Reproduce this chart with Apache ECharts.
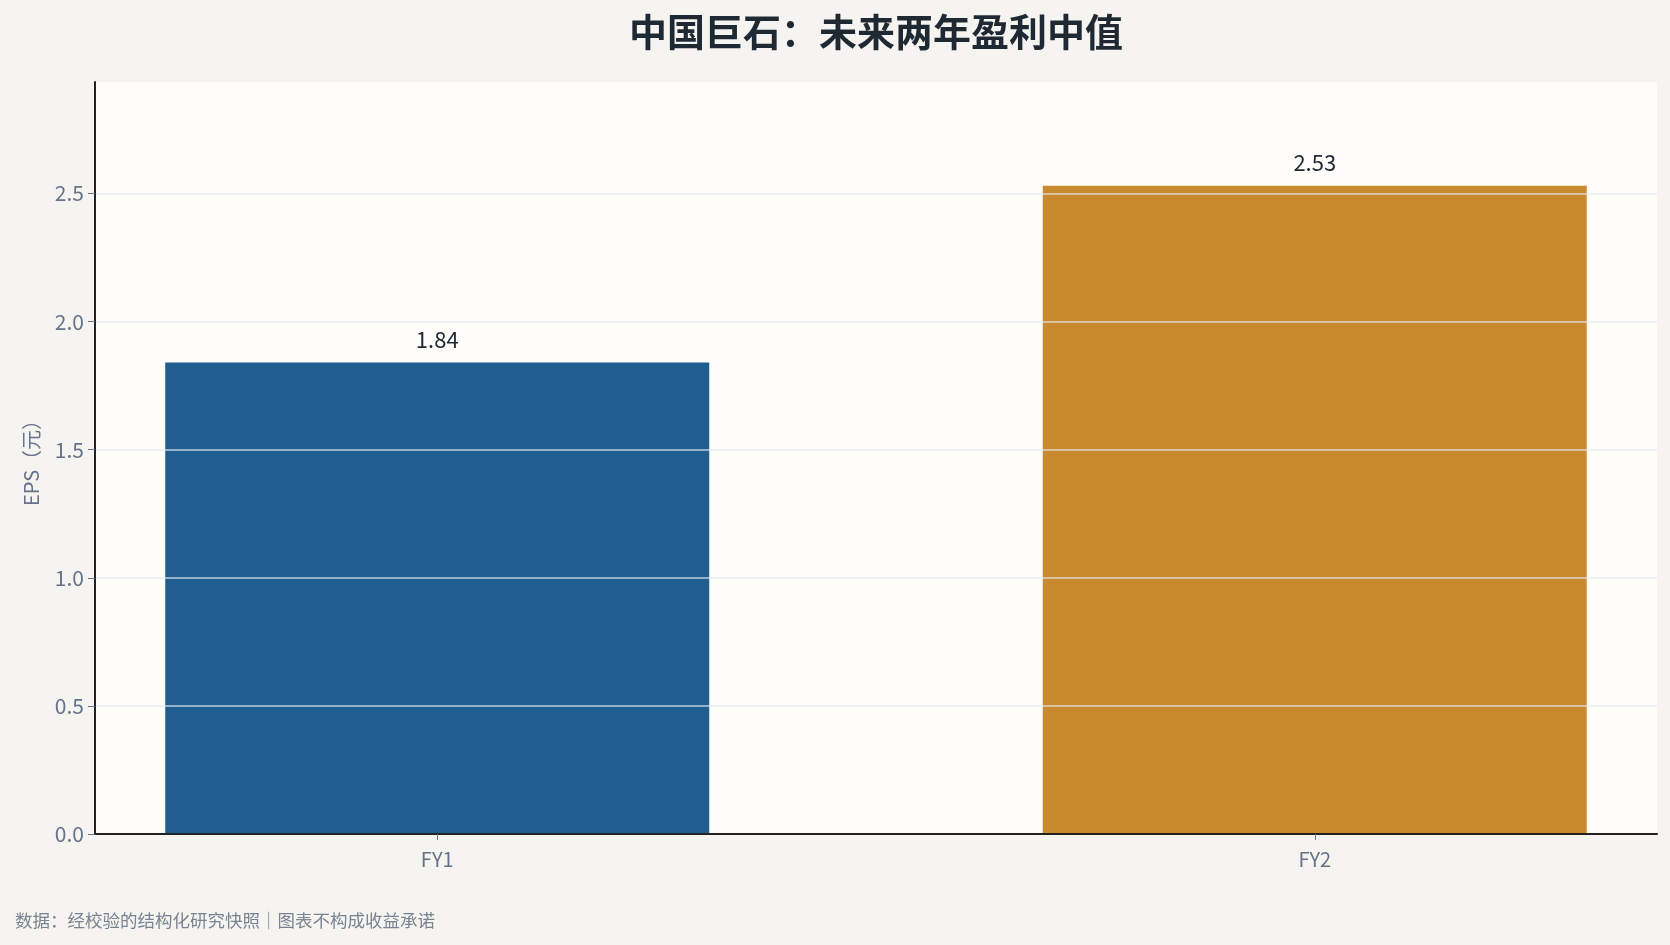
<!DOCTYPE html>
<html>
<head>
<meta charset="utf-8">
<script src="https://cdn.jsdelivr.net/npm/echarts@6/dist/echarts.min.js"></script>
<style>
  html, body { margin: 0; padding: 0; background: #f5f4f0; }
  #main { width: 1670px; height: 945px; }
</style>
</head>
<body>
<div id="main"></div>
<script>
const categories = ['FY1', 'FY2']
const eps = [1.84, 2.53]
const barColors = ['#1f5e8f', '#c98a2e']
const yTicks = [0, 0.5, 1.0, 1.5, 2.0, 2.5]

const font = '"Noto Sans CJK SC", "Noto Sans", sans-serif'
const chart = echarts.init(document.getElementById('main'), null, { renderer: 'canvas' })

// y 轴上限留 16% 空间给标签
const yMax = Math.max(...eps) * 1.16
// 网格线：最后一条（上限处）透明
const gridColors = yTicks.map(() => 'rgba(226,232,240,0.6)').concat(['rgba(0,0,0,0)'])

const option = {
  backgroundColor: '#f5f4f0',
  textStyle: { fontFamily: font },
  title: {
    text: '中国巨石：未来两年盈利中值',
    left: 871,
    textAlign: 'center',
    top: 8,
    textStyle: { fontSize: 38, fontWeight: 'bold', color: '#1f2933', fontFamily: font }
  },
  graphic: [{
    type: 'text',
    left: 15,
    top: 912,
    style: {
      text: '数据：经校验的结构化研究快照｜图表不构成收益承诺',
      fontSize: 17.5,
      fill: '#7a8391',
      fontFamily: font
    }
  }],
  grid: {
    left: 95,
    right: 13,
    top: 82,
    bottom: 111,
    show: true,
    backgroundColor: '#fefdf9',
    borderWidth: 0
  },
  xAxis: {
    type: 'value',
    min: -0.39,
    max: 1.39,
    z: 3,
    axisLine: { show: true, onZero: false, lineStyle: { color: '#222222', width: 2 } },
    axisTick: { show: true, customValues: categories.map((c, i) => i), length: 6, lineStyle: { color: '#66728a' } },
    axisLabel: {
      customValues: categories.map((c, i) => i),
      formatter: v => categories[Math.round(v)],
      fontSize: 20,
      color: '#66728a',
      margin: 15
    },
    splitLine: { show: false }
  },
  yAxis: {
    type: 'value',
    min: 0,
    max: yMax,
    interval: 0.5,
    z: 3,
    name: 'EPS（元）',
    nameLocation: 'middle',
    nameGap: 54,
    nameTextStyle: { fontSize: 20, color: '#66728a' },
    axisLine: { show: true, onZero: false, lineStyle: { color: '#222222', width: 2 } },
    axisTick: { show: true, length: 7, lineStyle: { color: '#66728a' } },
    axisLabel: {
      fontSize: 21,
      color: '#66728a',
      margin: 11,
      showMaxLabel: false,
      formatter: v => v.toFixed(1)
    },
    splitLine: { show: true, lineStyle: { color: gridColors, width: 2 } }
  },
  series: [{
    type: 'bar',
    barWidth: 544,
    data: categories.map((c, i) => ({ value: [i, eps[i]], itemStyle: { color: barColors[i] } })),
    label: {
      show: true,
      position: 'top',
      distance: 12,
      fontSize: 22,
      color: '#1f2933',
      formatter: p => p.value[1].toFixed(2)
    }
  }]
}

chart.setOption(option)
</script>
</body>
</html>
